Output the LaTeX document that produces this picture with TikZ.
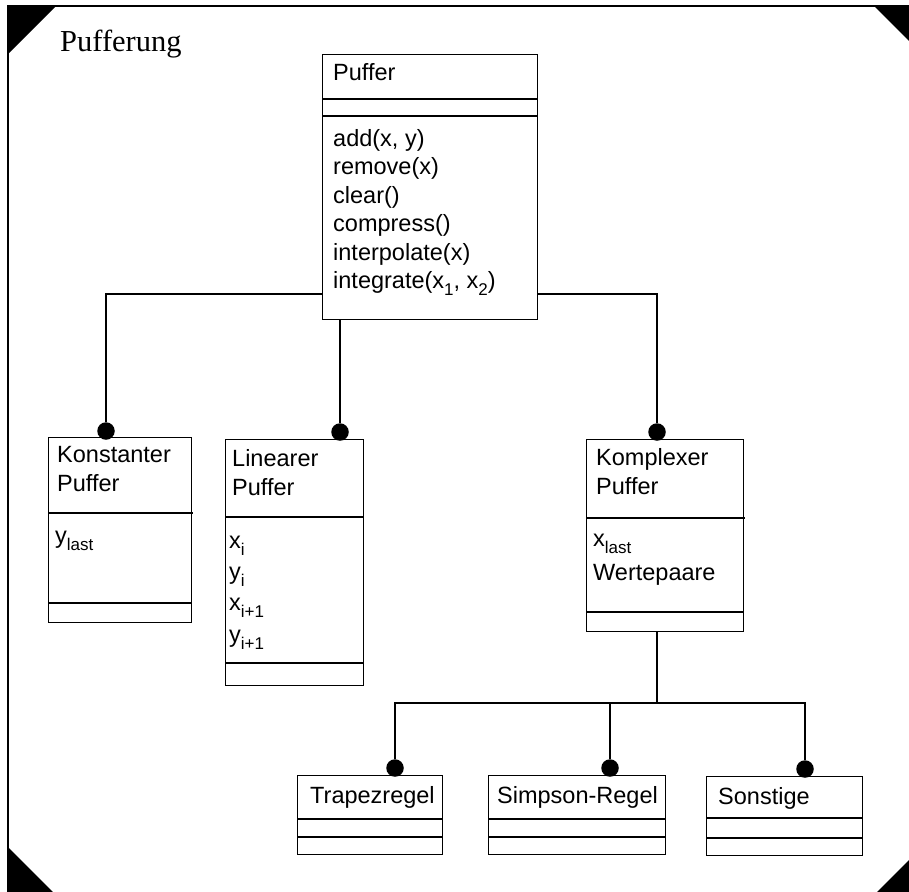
\documentclass[tikz,border=0pt]{standalone}
\usepackage{fontspec}
\setmainfont{Liberation Sans}
\newfontfamily\titlefont{Liberation Serif}
\usetikzlibrary{calc}

% lowered, smaller index text for attribute names
\newcommand\subtxt[1]{\raisebox{-0.3em}{\fontsize{17}{17}\selectfont #1}}

\tikzset{
  umlbox/.style={draw, line width=1.2pt, rectangle, inner sep=0pt, anchor=north west},
  boxline/.style={line width=1.2pt},
  conn/.style={line width=1.1pt},
  dot/.style={circle, fill=black, inner sep=0pt, minimum size=17.5pt},
  lbl/.style={anchor=base west, inner sep=0pt, font=\fontsize{23.5}{28}\selectfont},
  frameline/.style={line width=1.6pt},
  corner/.style={fill=black},
}

\begin{document}
\begin{tikzpicture}[x=1pt,y=-1pt]
\useasboundingbox (0,0) rectangle (909,891);
\clip (0,0) rectangle (909,891);

% outer frame with cut corners
\draw[frameline] (8,6) rectangle (922,895);
\fill[corner] (8,6) -- (56,6) -- (8,54) -- cycle;
\fill[corner] (922,6) -- (874,6) -- (922,54) -- cycle;
\fill[corner] (8,895) -- (56,895) -- (8,847) -- cycle;
\fill[corner] (922,895) -- (874,895) -- (922,847) -- cycle;

\node[anchor=base west, inner sep=0pt, font=\titlefont\fontsize{30.5}{30.5}\selectfont] (title) at (60,52) {Pufferung};

% ---- base class
\node[umlbox, minimum width=215pt, minimum height=265pt] (puffer) at (322,54) {};
\draw[boxline] (322,99) -- (538,99);
\draw[boxline] (322,116) -- (538,116);
\node[lbl] (pName) at (333,80) {Puffer};
\node[lbl] (m1) at (333,146) {add(x, y)};
\node[lbl] (m2) at (333,174.5) {remove(x)};
\node[lbl] (m3) at (333,203) {clear()};
\node[lbl] (m4) at (333,231.5) {compress()};
\node[lbl] (m5) at (333,260) {interpolate(x)};
\node[lbl] (m6) at (333,288.5) {integrate(x\subtxt{1}, x\subtxt{2})};

% ---- Konstanter Puffer
\node[umlbox, minimum width=143pt, minimum height=185pt] (konst) at (48,437) {};
\draw[boxline] (48,513) -- (193,513);
\draw[boxline] (48,603) -- (191,603);
\node[lbl] (kN1) at (57,462) {Konstanter};
\node[lbl] (kN2) at (57,491) {Puffer};
\node[lbl] (kA1) at (55,543) {y\subtxt{last}};

% ---- Linearer Puffer
\node[umlbox, minimum width=138pt, minimum height=246pt] (linear) at (225,439) {};
\draw[boxline] (225,517) -- (363,517);
\draw[boxline] (225,663) -- (363,663);
\node[lbl] (lN1) at (232,466) {Linearer};
\node[lbl] (lN2) at (232,495) {Puffer};
\node[lbl] (lA1) at (229,548) {x\subtxt{i}};
\node[lbl] (lA2) at (229,579) {y\subtxt{i}};
\node[lbl] (lA3) at (229,610) {x\subtxt{i+1}};
\node[lbl] (lA4) at (229,642) {y\subtxt{i+1}};

% ---- Komplexer Puffer
\node[umlbox, minimum width=157pt, minimum height=192pt] (komplex) at (586,439) {};
\draw[boxline] (586,518) -- (745,518);
\draw[boxline] (586,612) -- (743,612);
\node[lbl] (cN1) at (596,465) {Komplexer};
\node[lbl] (cN2) at (596,494) {Puffer};
\node[lbl] (cA1) at (593,546) {x\subtxt{last}};
\node[lbl] (cA2) at (593,580) {Wertepaare};

% ---- integration rules
\node[umlbox, minimum width=145pt, minimum height=79pt] (trapez) at (297,775) {};
\draw[boxline] (297,819) -- (442,819);
\draw[boxline] (297,837) -- (442,837);
\node[lbl] (tN) at (310,803) {Trapezregel};

\node[umlbox, minimum width=177pt, minimum height=79pt] (simpson) at (488,775) {};
\draw[boxline] (488,819) -- (665,819);
\draw[boxline] (488,837) -- (665,837);
\node[lbl] (sN) at (497,803) {Simpson-Regel};

\node[umlbox, minimum width=156pt, minimum height=79pt] (sonst) at (706,776) {};
\draw[boxline] (706,818) -- (862,818);
\draw[boxline] (706,838) -- (862,838);
\node[lbl] (oN) at (718,804) {Sonstige};

% ---- association dots
\node[dot] (dotK) at (106,431) {};
\node[dot] (dotL) at (340,432) {};
\node[dot] (dotC) at (657,432) {};
\node[dot] (dotT) at (395,768) {};
\node[dot] (dotS) at (610,768) {};
\node[dot] (dotO) at (805,769) {};

% ---- connectors
\coordinate (pufL) at (322,294);
\coordinate (pufR) at (537,294);
\coordinate (split) at (657,703);
\draw[conn] (pufL) -| (dotK);
\draw[conn] (pufR) -| (dotC);
\draw[conn] (puffer.south -| dotL) -- (dotL);
\draw[conn] (komplex.south -| split) -- (split);
\draw[conn] (dotT) |- (split) -| (dotO);
\draw[conn] (dotS |- split) -- (dotS);
\end{tikzpicture}
\end{document}
